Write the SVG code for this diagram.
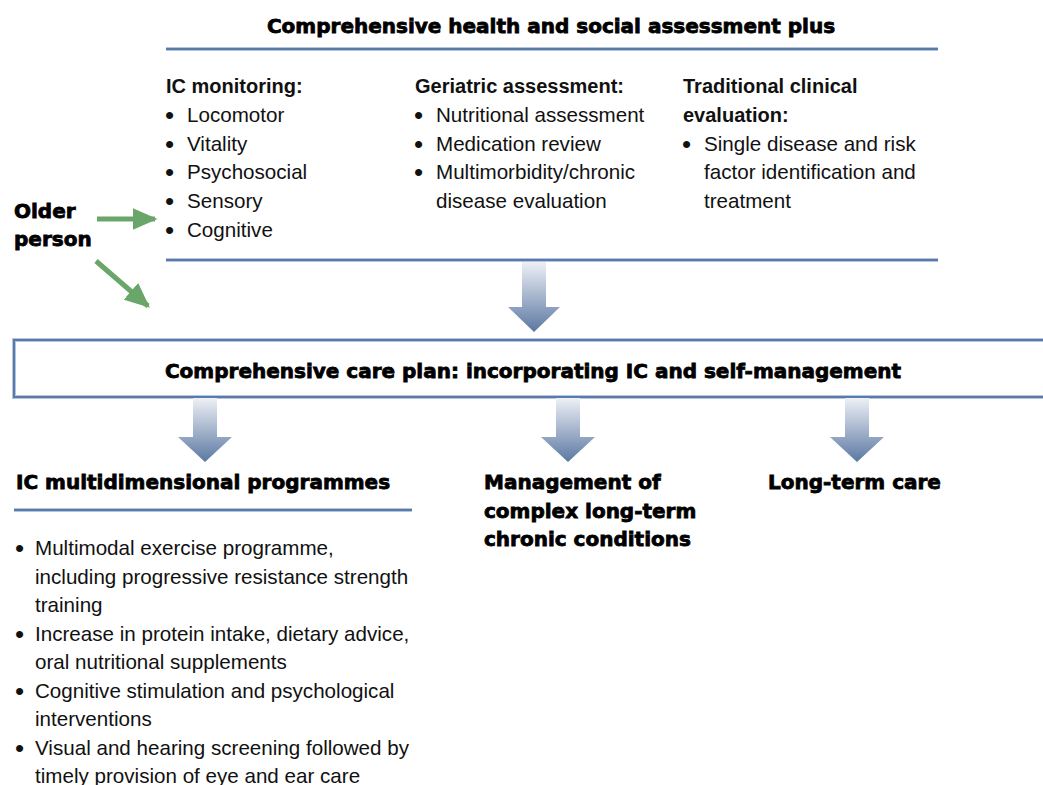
<svg xmlns="http://www.w3.org/2000/svg" width="1043" height="785" viewBox="0 0 1043 785">
<defs>
<linearGradient id="ag" x1="0" y1="0" x2="0" y2="1">
<stop offset="0" stop-color="#eef0f6"/>
<stop offset="1" stop-color="#5b78a2"/>
</linearGradient>
<marker id="gh" viewBox="0 0 10 10" refX="9" refY="5" markerWidth="5" markerHeight="4.4" markerUnits="strokeWidth" orient="auto" preserveAspectRatio="none">
<path d="M0,0 L10,5 L0,10 Z" fill="#6aa66a"/>
</marker>
</defs>
<style>
.hv{font-family:"DejaVu Sans","Liberation Sans",sans-serif;font-weight:bold;font-size:20px;fill:#000;stroke:#000;stroke-width:0.8px}
.sb{font-family:"Liberation Sans",Arial,sans-serif;font-weight:bold;font-size:20px;fill:#111}
.tx{font-family:"Liberation Sans",Arial,sans-serif;font-size:20.6px;fill:#111}
.bu{font-family:"Liberation Sans",Arial,sans-serif;font-size:26px;fill:#111}
.rl1{stroke:#b4c6df;stroke-width:4;fill:none}
.rl2{stroke:#5a7aa8;stroke-width:2;fill:none}
.gl{stroke:#6aa66a;stroke-width:5;fill:none}
</style>
<rect width="1043" height="785" fill="#fff"/>

<g id="assessment">
<text class="hv" x="551" y="33" text-anchor="middle">Comprehensive health and social assessment plus</text>
<line class="rl1" x1="166" y1="49" x2="938" y2="49"/>
<line class="rl2" x1="166" y1="49" x2="938" y2="49"/>
<g id="ic-monitoring">
<text class="sb" x="166" y="93">IC monitoring:</text>
<text class="bu" x="165" y="124">•</text><text class="tx" x="187" y="122">Locomotor</text>
<text class="bu" x="165" y="153">•</text><text class="tx" x="187" y="151">Vitality</text>
<text class="bu" x="165" y="181">•</text><text class="tx" x="187" y="179">Psychosocial</text>
<text class="bu" x="165" y="210">•</text><text class="tx" x="187" y="208">Sensory</text>
<text class="bu" x="165" y="239">•</text><text class="tx" x="187" y="237">Cognitive</text>
</g>
<g id="geriatric">
<text class="sb" x="415" y="93">Geriatric assessment:</text>
<text class="bu" x="414" y="124">•</text><text class="tx" x="436" y="122">Nutritional assessment</text>
<text class="bu" x="414" y="153">•</text><text class="tx" x="436" y="151">Medication review</text>
<text class="bu" x="414" y="181">•</text><text class="tx" x="436" y="179">Multimorbidity/chronic</text>
<text class="tx" x="436" y="208">disease evaluation</text>
</g>
<g id="traditional">
<text class="sb" x="683" y="93">Traditional clinical</text>
<text class="sb" x="683" y="122">evaluation:</text>
<text class="bu" x="682" y="153">•</text><text class="tx" x="704" y="151">Single disease and risk</text>
<text class="tx" x="704" y="179">factor identification and</text>
<text class="tx" x="704" y="208">treatment</text>
</g>
<line class="rl1" x1="166" y1="260" x2="938" y2="260"/>
<line class="rl2" x1="166" y1="260" x2="938" y2="260"/>
</g>

<g id="older-person">
<text class="hv" x="14" y="218">Older</text>
<text class="hv" x="14" y="246">person</text>
</g>

<g id="care-plan">
<rect x="14" y="340" width="1040" height="57" class="rl1"/>
<rect x="14" y="340" width="1040" height="57" class="rl2"/>
<text class="hv" x="533" y="378" text-anchor="middle">Comprehensive care plan: incorporating IC and self-management</text>
</g>

<g id="ic-programmes">
<text class="hv" x="16" y="489">IC multidimensional programmes</text>
<line class="rl1" x1="14" y1="510" x2="412" y2="510"/>
<line class="rl2" x1="14" y1="510" x2="412" y2="510"/>
<text class="bu" x="15" y="557">•</text><text class="tx" x="35" y="555">Multimodal exercise programme,</text>
<text class="tx" x="35" y="584">including progressive resistance strength</text>
<text class="tx" x="35" y="612">training</text>
<text class="bu" x="15" y="643">•</text><text class="tx" x="35" y="641">Increase in protein intake, dietary advice,</text>
<text class="tx" x="35" y="669">oral nutritional supplements</text>
<text class="bu" x="15" y="700">•</text><text class="tx" x="35" y="698">Cognitive stimulation and psychological</text>
<text class="tx" x="35" y="726">interventions</text>
<text class="bu" x="15" y="757">•</text><text class="tx" x="35" y="755">Visual and hearing screening followed by</text>
<text class="tx" x="35" y="783">timely provision of eye and ear care</text>
</g>

<g id="complex-conditions">
<text class="hv" x="484" y="489">Management of</text>
<text class="hv" x="484" y="518">complex long-term</text>
<text class="hv" x="484" y="546">chronic conditions</text>
</g>

<g id="long-term-care">
<text class="hv" x="768" y="489">Long-term care</text>
</g>

<g id="connectors">
<line class="gl" x1="97" y1="219" x2="155" y2="219" marker-end="url(#gh)"/>
<line class="gl" x1="96" y1="261" x2="148" y2="306" marker-end="url(#gh)"/>
<path d="M522,262 H546 V307 H560 L534,332 L508,307 H522 Z" fill="url(#ag)"/>
<path d="M193,398 H217 V437 H232 L205,462 L178,437 H193 Z" fill="url(#ag)"/>
<path d="M556,398 H580 V437 H595 L568,462 L541,437 H556 Z" fill="url(#ag)"/>
<path d="M845,398 H869 V437 H884 L857,462 L830,437 H845 Z" fill="url(#ag)"/>
</g>
</svg>
